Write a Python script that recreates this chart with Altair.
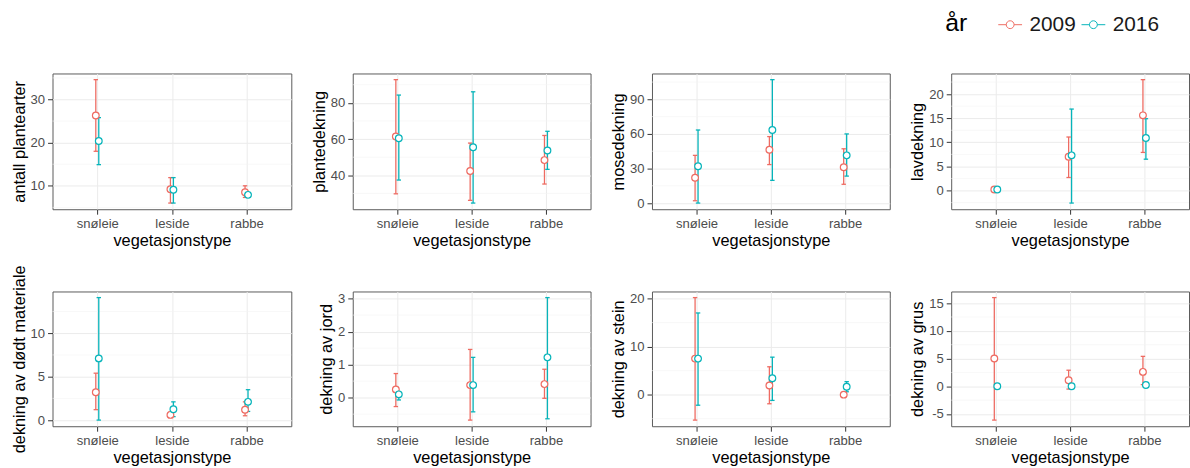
import altair as alt
import pandas as pd

FONT = "Liberation Sans"
CATEGORIES = ["snøleie", "leside", "rabbe"]
YEARS = ["2009", "2016"]
YEAR_COLORS = ["#EE6B62", "#06B4BA"]
X_TITLE = "vegetasjonstype"
LEGEND_TITLE = "år"

# 1 antall plantearter
arter_2009 = [26.3, 9.2, 8.5]
arter_2009_lo = [18.0, 6.0, 7.3]
arter_2009_hi = [34.6, 11.9, 10.0]
arter_2016 = [20.4, 9.1, 7.9]
arter_2016_lo = [14.9, 6.0, 7.4]
arter_2016_hi = [25.8, 11.9, 8.4]
arter_ticks = [10, 20, 30]

# 2 plantedekning
plante_2009 = [61.4, 42.4, 48.4]
plante_2009_lo = [29.8, 26.2, 35.2]
plante_2009_hi = [92.8, 57.8, 62.0]
plante_2016 = [60.5, 55.5, 53.7]
plante_2016_lo = [37.4, 24.7, 43.3]
plante_2016_hi = [84.3, 86.1, 64.3]
plante_ticks = [40, 60, 80]

# 3 mosedekning
mose_2009 = [22.0, 46.3, 31.1]
mose_2009_lo = [2.0, 33.4, 16.3]
mose_2009_hi = [41.4, 57.7, 47.1]
mose_2016 = [32.0, 63.4, 41.4]
mose_2016_lo = [0.0, 19.7, 23.4]
mose_2016_hi = [63.4, 107.1, 60.0]
mose_ticks = [0, 30, 60, 90]

# 4 lavdekning
lav_2009 = [0.2, 7.0, 15.6]
lav_2009_lo = [0.0, 2.7, 7.9]
lav_2009_hi = [0.4, 11.1, 23.0]
lav_2016 = [0.2, 7.3, 10.9]
lav_2016_lo = [0.05, -2.6, 6.5]
lav_2016_hi = [0.35, 16.9, 14.9]
lav_ticks = [0, 5, 10, 15, 20]

# 5 dekning av dødt materiale
dodt_2009 = [3.2, 0.6, 1.2]
dodt_2009_lo = [1.2, 0.3, 0.5]
dodt_2009_hi = [5.4, 0.9, 2.1]
dodt_2016 = [7.1, 1.25, 2.1]
dodt_2016_lo = [0.0, 0.4, 1.0]
dodt_2016_hi = [14.1, 2.1, 3.5]
dodt_ticks = [0, 5, 10]

# 6 dekning av jord
jord_2009 = [0.25, 0.38, 0.41]
jord_2009_lo = [-0.27, -0.68, -0.02]
jord_2009_hi = [0.73, 1.46, 0.86]
jord_2016 = [0.10, 0.38, 1.22]
jord_2016_lo = [-0.07, -0.43, -0.64]
jord_2016_hi = [0.18, 1.22, 3.03]
jord_ticks = [0, 1, 2, 3]

# 7 dekning av stein
stein_2009 = [7.5, 1.9, 0.0]
stein_2009_lo = [-5.3, -1.9, 0.0]
stein_2009_hi = [20.2, 5.8, 0.0]
stein_2016 = [7.5, 3.4, 1.65]
stein_2016_lo = [-2.2, -1.2, 0.6]
stein_2016_hi = [17.0, 7.8, 2.7]
stein_ticks = [0, 10, 20]

# 8 dekning av grus
grus_2009 = [5.0, 1.1, 2.6]
grus_2009_lo = [-6.1, -0.5, 0.3]
grus_2009_hi = [16.0, 2.9, 5.4]
grus_2016 = [0.0, 0.0, 0.24]
grus_2016_lo = [0.0, 0.0, 0.0]
grus_2016_hi = [0.0, 0.0, 0.5]
grus_ticks = [-5, 0, 5, 10, 15]

SYMBOL_PATH = ("M-1,0H-0.33M0.33,0H1M0.33,0A0.33,0.33 0 1 1 -0.33,0"
               "A0.33,0.33 0 1 1 0.33,0")

LEGEND = alt.Legend(
    title=LEGEND_TITLE, orient="none", legendX=901, legendY=-62,
    direction="horizontal", titleOrient="left",
    titleFontSize=25, titleFontWeight="normal", titleColor="#000000",
    titleFont=FONT, labelFont=FONT, labelFontSize=21, labelColor="#1A1A1A",
    symbolType=SYMBOL_PATH, symbolSize=576, symbolStrokeWidth=1,
    symbolFillColor="white", labelOffset=7, columnPadding=3, titlePadding=30,
)


def build_table(m09, lo09, hi09, m16, lo16, hi16):
    rows = []
    for year, (m, lo, hi) in zip(YEARS, [(m09, lo09, hi09), (m16, lo16, hi16)]):
        for cat, a, b, c in zip(CATEGORIES, m, lo, hi):
            rows.append({"veg": cat, "year": year, "mean": a, "lo": b, "hi": c})
    return pd.DataFrame(rows)


def panel(ytitle, table, ticks, width, height):
    vmin = float(table[["mean", "lo", "hi"]].min().min())
    vmax = float(table[["mean", "lo", "hi"]].max().max())
    pad = 0.05 * (vmax - vmin)
    dom = [vmin - pad, vmax + pad]
    step = ticks[1] - ticks[0]
    minors = [t - step / 2 for t in ticks] + [ticks[-1] + step / 2]
    minors = [v for v in minors if dom[0] <= v <= dom[1]]

    yscale = alt.Scale(domain=dom, nice=False, zero=False)
    yaxis = alt.Axis(values=ticks, grid=True,
                     labelExpr="replace(datum.label, '\u2212', '-')")
    xaxis = alt.Axis(title=X_TITLE, labelAngle=0, grid=True)
    xenc = alt.X("veg:N", sort=CATEGORIES, title=X_TITLE,
                 scale=alt.Scale(type="point", padding=0.6), axis=xaxis)
    xoff = alt.XOffset("year:N", sort=YEARS,
                       scale=alt.Scale(domain=YEARS, range=[-3, 3]))
    stroke = alt.Stroke("year:N", scale=alt.Scale(domain=YEARS, range=YEAR_COLORS),
                        legend=LEGEND)

    def yenc(field):
        return alt.Y(field, scale=yscale, axis=yaxis, title=ytitle)

    base = alt.Chart(table)
    minor = alt.Chart(pd.DataFrame({"v": minors})).mark_rule(
        color="#F3F3F3", strokeWidth=0.6
    ).encode(y=yenc("v:Q"))
    bars = base.mark_rule(strokeWidth=1.3).encode(
        x=xenc, xOffset=xoff, y=yenc("lo:Q"), y2="hi:Q", stroke=stroke)
    cap_lo = base.mark_point(shape="stroke", size=20, strokeWidth=1.3,
                             opacity=1).encode(
        x=xenc, xOffset=xoff, y=yenc("lo:Q"), stroke=stroke)
    cap_hi = base.mark_point(shape="stroke", size=20, strokeWidth=1.3,
                             opacity=1).encode(
        x=xenc, xOffset=xoff, y=yenc("hi:Q"), stroke=stroke)
    pts = base.mark_point(shape="circle", filled=True, fill="white", size=46,
                          strokeWidth=1.2, opacity=1).encode(
        x=xenc, xOffset=xoff, y=yenc("mean:Q"), stroke=stroke)
    return alt.layer(minor, bars, cap_lo, cap_hi, pts).properties(
        width=width, height=height)


panels = [
    panel("antall plantearter",
          build_table(arter_2009, arter_2009_lo, arter_2009_hi,
                      arter_2016, arter_2016_lo, arter_2016_hi), arter_ticks, 241, 137),
    panel("plantedekning",
          build_table(plante_2009, plante_2009_lo, plante_2009_hi,
                      plante_2016, plante_2016_lo, plante_2016_hi), plante_ticks, 240, 137),
    panel("mosedekning",
          build_table(mose_2009, mose_2009_lo, mose_2009_hi,
                      mose_2016, mose_2016_lo, mose_2016_hi), mose_ticks, 240, 137),
    panel("lavdekning",
          build_table(lav_2009, lav_2009_lo, lav_2009_hi,
                      lav_2016, lav_2016_lo, lav_2016_hi), lav_ticks, 240, 137),
    panel("dekning av dødt materiale",
          build_table(dodt_2009, dodt_2009_lo, dodt_2009_hi,
                      dodt_2016, dodt_2016_lo, dodt_2016_hi), dodt_ticks, 241, 136),
    panel("dekning av jord",
          build_table(jord_2009, jord_2009_lo, jord_2009_hi,
                      jord_2016, jord_2016_lo, jord_2016_hi), jord_ticks, 240, 136),
    panel("dekning av stein",
          build_table(stein_2009, stein_2009_lo, stein_2009_hi,
                      stein_2016, stein_2016_lo, stein_2016_hi), stein_ticks, 240, 136),
    panel("dekning av grus",
          build_table(grus_2009, grus_2009_lo, grus_2009_hi,
                      grus_2016, grus_2016_lo, grus_2016_hi), grus_ticks, 240, 136),
]

chart = alt.concat(
    *panels, columns=4, spacing={"row": 83, "column": 62}, bounds="flush"
).properties(
    padding={"left": 10, "top": 10, "right": 0, "bottom": 0}
).configure(
    font=FONT
).configure_axis(
    labelFont=FONT, labelFontSize=13.2, labelColor="#4D4D4D",
    titleFont=FONT, titleFontSize=16.5, titleFontWeight="normal",
    titleColor="#000000", tickColor="#333333", tickSize=5, tickWidth=1,
    labelPadding=3, titlePadding=3, domain=False,
    gridColor="#EBEBEB", gridWidth=1,
).configure_axisX(
    titlePadding=3
).configure_view(
    stroke="#5A5A5A", strokeWidth=1
)

chart.save("out.html", embed_options={"renderer": "svg", "actions": False})
